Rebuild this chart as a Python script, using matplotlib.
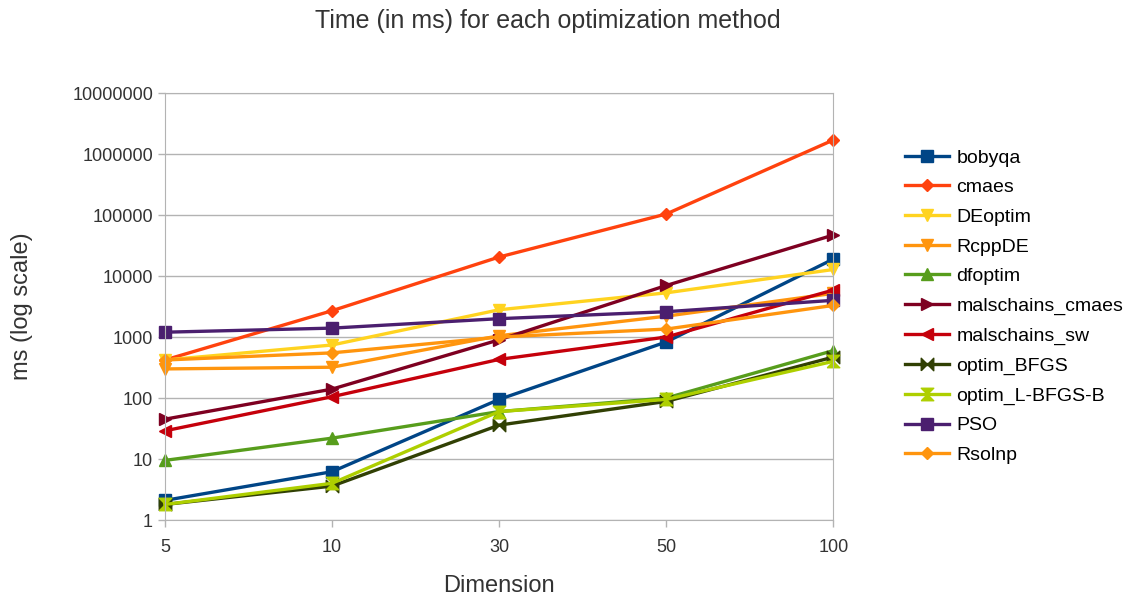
import matplotlib.pyplot as plt
from matplotlib.ticker import FixedLocator, NullLocator

plt.rcParams['font.family'] = ['Liberation Sans', 'DejaVu Sans']

dims = ["5", "10", "30", "50", "100"]

bobyqa = [2.1, 6.2, 95, 830, 19000]
cmaes = [420, 2700, 20500, 104000, 1700000]
deoptim = [420, 740, 2800, 5300, 12800]
rcppde = [300, 320, 1050, 2200, 5200]
dfoptim = [9.5, 22, 60, 100, 600]
malschains_cmaes = [45, 140, 900, 7000, 47000]
malschains_sw = [29, 105, 430, 1000, 5900]
optim_bfgs = [1.8, 3.6, 36, 88, 470]
optim_lbfgsb = [1.8, 4.0, 60, 95, 400]
pso = [1200, 1400, 2000, 2600, 4000]
rsolnp = [420, 550, 1000, 1350, 3300]

bowtie = [(-1, -1), (1, 1), (1, -1), (-1, 1), (-1, -1)]
hourglass = [(-1, -1), (1, -1), (-1, 1), (1, 1), (-1, -1)]

series = [
    ("bobyqa", bobyqa, "#004586", "s", 8),
    ("cmaes", cmaes, "#ff420e", "D", 6.5),
    ("DEoptim", deoptim, "#ffd320", "v", 9),
    ("RcppDE", rcppde, "#ff950e", "v", 9),
    ("dfoptim", dfoptim, "#579d1c", "^", 9),
    ("malschains_cmaes", malschains_cmaes, "#7e0021", ">", 9),
    ("malschains_sw", malschains_sw, "#c5000b", "<", 9),
    ("optim_BFGS", optim_bfgs, "#314004", bowtie, 9),
    ("optim_L-BFGS-B", optim_lbfgsb, "#aecf00", hourglass, 9),
    ("PSO", pso, "#4b1f6f", "s", 8),
    ("Rsolnp", rsolnp, "#ff950e", "D", 6.5),
]

fig = plt.figure(figsize=(11.37, 6.04), dpi=100)
ax = fig.add_axes([0.145, 0.139, 0.588, 0.707])

x = list(range(len(dims)))
for name, vals, color, marker, ms in series:
    ax.plot(x, vals, color=color, lw=2.4, marker=marker, ms=ms,
            mec=color, mfc=color, label=name, clip_on=False)

ax.set_yscale("log")
ax.set_ylim(1, 1e7)
ax.set_xlim(0, len(dims) - 1)
yt = [10 ** i for i in range(8)]
ax.yaxis.set_major_locator(FixedLocator(yt))
ax.yaxis.set_minor_locator(NullLocator())
ax.set_yticklabels([str(v) for v in yt])
ax.set_xticks(x)
ax.set_xticklabels(dims)
ax.grid(axis="y", color="#b3b3b3", lw=1)
ax.set_axisbelow(True)
for s in ax.spines.values():
    s.set_color("#b3b3b3")
ax.tick_params(colors="#b3b3b3", labelcolor="#333333", labelsize=13,
               length=5, width=1)
ax.tick_params(axis="x", pad=9)

ax.set_xlabel("Dimension", fontsize=17, labelpad=13, color="#333333")
ax.set_ylabel("ms (log scale)", fontsize=17, labelpad=28, color="#333333")
fig.suptitle("Time (in ms) for each optimization method", fontsize=18,
             y=0.985, x=0.482, color="#333333")

leg = ax.legend(loc="center left", bbox_to_anchor=(1.095, 0.5), frameon=False,
                fontsize=14, handlelength=2.3, labelspacing=0.62,
                handletextpad=0.35, borderaxespad=0)

fig.savefig("out.png", dpi=100)
